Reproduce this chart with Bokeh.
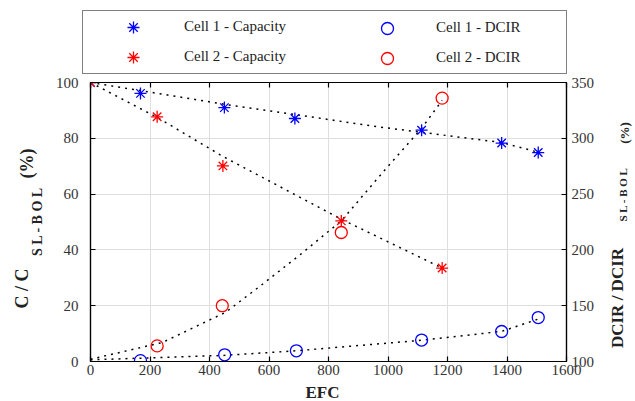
import math
from bokeh.plotting import figure
from bokeh.layouts import row, column
from bokeh.models import Range1d, LinearAxis, FixedTicker, Label, Legend, LegendItem
from bokeh.embed import file_html
from bokeh.resources import INLINE

# ---- data ----
efc_c1_cap = [0, 168, 450, 687, 1113, 1382, 1505]
cap_c1 = [100, 96.1, 91.0, 87.1, 82.9, 78.3, 74.9]
efc_c2_cap = [0, 224, 445, 843, 1182]
cap_c2 = [100, 87.7, 70.1, 50.4, 33.5]
efc_c1_dcir = [168, 451, 692, 1113, 1382, 1505]
dcir_c1 = [100.8, 106.0, 109.6, 119.2, 126.9, 139.4]
efc_c2_dcir = [224, 443, 843, 1182]
dcir_c2 = [114.0, 150.0, 215.6, 336.0]

# dotted trend lines
trend_c1_cap_x = [0, 450, 975, 1382, 1505]
trend_c1_cap_y = [100, 92.2, 84.0, 78.5, 75.0]
trend_c2_cap_x = [0, 224, 445, 843, 1182]
trend_c2_cap_y = [100, 87.5, 73.5, 51.0, 33.5]
trend_c1_dcir_x = [0, 451, 692, 1113, 1382, 1505]
trend_c1_dcir_y = [101.5, 105.5, 109.6, 119.0, 127.0, 138.0]
trend_c2_dcir_x = [0, 241, 454, 577, 706, 843, 997, 1113, 1182]
trend_c2_dcir_y = [102, 117, 144, 169, 196, 226, 274, 309, 334]

x_ticks = [0, 200, 400, 600, 800, 1000, 1200, 1400, 1600]
left_ticks = [0, 20, 40, 60, 80, 100]
right_ticks = [100, 150, 200, 250, 300, 350]

series_labels = ["Cell 1 - Capacity", "Cell 2 - Capacity", "Cell 1 - DCIR", "Cell 2 - DCIR"]
x_title = "EFC"
left_title = ["C / C", "S L - B O L", "(%)"]
right_title = ["DCIR / DCIR", "S L - B O L", "(%)"]

FONT = "Liberation Serif"
BLUE = "#0000ff"
RED = "#ff0000"
TXT = "#222222"

W, H = 635, 401
LEFT_W, RIGHT_W, TOP_H, BOTTOM_H = 46, 31, 74, 19
MAIN_W = W - LEFT_W - RIGHT_W
MAIN_H = H - TOP_H - BOTTOM_H
FRAME_L, FRAME_R, FRAME_T, FRAME_B = 90, 566, 82, 361
BL, BR = FRAME_L - LEFT_W, (W - RIGHT_W) - FRAME_R

p = figure(width=MAIN_W, height=MAIN_H,
           x_range=Range1d(0, 1600), y_range=Range1d(0, 100),
           output_backend="svg", toolbar_location=None,
           min_border_left=BL, min_border_right=BR,
           min_border_top=FRAME_T - TOP_H,
           min_border_bottom=(TOP_H + MAIN_H) - FRAME_B)
p.extra_y_ranges = {"dcir": Range1d(100, 350)}
p.background_fill_color = "white"
p.border_fill_color = "white"
p.outline_line_color = "black"
p.outline_line_width = 1.2


def style_axis(ax, ticks, standoff):
    ax.ticker = FixedTicker(ticks=ticks)
    ax.major_tick_in = 5
    ax.major_tick_out = 0
    ax.minor_tick_in = 0
    ax.minor_tick_out = 0
    ax.axis_line_color = "black"
    ax.axis_line_width = 1.2
    ax.major_tick_line_color = "black"
    ax.major_tick_line_width = 1.2
    ax.major_label_text_font = FONT
    ax.major_label_text_font_size = "15px"
    ax.major_label_text_color = "#333333"
    ax.major_label_standoff = standoff


style_axis(p.xaxis[0], x_ticks, 3)
style_axis(p.yaxis[0], left_ticks, 12)

right_axis = LinearAxis(y_range_name="dcir")
style_axis(right_axis, right_ticks, 5)
p.add_layout(right_axis, "right")

top_axis = LinearAxis()
style_axis(top_axis, x_ticks, 0)
top_axis.major_label_overrides = {t: "" for t in x_ticks}
top_axis.major_label_text_font_size = "0px"
p.add_layout(top_axis, "above")

p.xgrid.ticker = FixedTicker(ticks=x_ticks)
p.ygrid.ticker = FixedTicker(ticks=left_ticks)
for g in (p.xgrid[0], p.ygrid[0]):
    g.grid_line_color = "#dedede"
    g.grid_line_width = 1

# trend lines
dash = dict(line_color="black", line_width=1.5, line_dash="2 5")
p.line(trend_c1_cap_x, trend_c1_cap_y, **dash)
p.line(trend_c2_cap_x, trend_c2_cap_y, **dash)
p.line(trend_c1_dcir_x, trend_c1_dcir_y, y_range_name="dcir", **dash)
p.line(trend_c2_dcir_x, trend_c2_dcir_y, y_range_name="dcir", **dash)

# markers
star = dict(marker="asterisk", size=12, line_width=1.3)
ring = dict(marker="circle", size=12, fill_color=None, line_width=1.3)
p.scatter(efc_c1_cap, cap_c1, line_color=BLUE, **star)
p.scatter(efc_c2_cap, cap_c2, line_color=RED, **star)
p.scatter(efc_c1_dcir, dcir_c1, line_color=BLUE, y_range_name="dcir", **ring)
p.scatter(efc_c2_dcir, dcir_c2, line_color=RED, y_range_name="dcir", **ring)


def strip(w, h, xr=None, bl=0, br=0):
    f = figure(width=w, height=h,
               x_range=xr if xr is not None else Range1d(0, w),
               y_range=Range1d(0, h),
               output_backend="svg", toolbar_location=None,
               x_axis_location=None, y_axis_location=None,
               min_border=0, min_border_left=bl, min_border_right=br,
               outline_line_color=None)
    f.background_fill_color = "white"
    f.border_fill_color = "white"
    for g in f.grid:
        g.visible = False
    return f


def put(f, text, x, y, size, angle=math.pi / 2):
    f.add_layout(Label(x=x, y=y, text=text, angle=angle,
                       text_align="center", text_baseline="middle",
                       text_font=FONT, text_font_style="bold",
                       text_font_size=size, text_color=TXT))


# legend strip across the top (hidden copies of the series supply the swatches)
tf = strip(W, TOP_H)
k1 = tf.scatter(efc_c1_cap, cap_c1, line_color=BLUE, visible=False, **star)
k2 = tf.scatter(efc_c2_cap, cap_c2, line_color=RED, visible=False, **star)
k3 = tf.scatter(efc_c1_dcir, dcir_c1, line_color=BLUE, visible=False, **ring)
k4 = tf.scatter(efc_c2_dcir, dcir_c2, line_color=RED, visible=False, **ring)
leg_common = dict(orientation="vertical", glyph_height=30, label_height=30,
                  spacing=0, margin=0,
                  label_text_font=FONT, label_text_font_size="15px",
                  label_text_color=TXT)
leg1 = Legend(items=[LegendItem(label=series_labels[0], renderers=[k1]),
                     LegendItem(label=series_labels[1], renderers=[k2])],
              location=(82, 0.5), glyph_width=98, label_standoff=2,
              label_width=381, padding=1,
              border_line_color="black", border_line_width=1.2,
              background_fill_color="white", background_fill_alpha=1.0,
              **leg_common)
leg2 = Legend(items=[LegendItem(label=series_labels[2], renderers=[k3]),
                     LegendItem(label=series_labels[3], renderers=[k4])],
              location=(372, 1.5), glyph_width=30, label_standoff=34,
              label_width=100, padding=0,
              border_line_alpha=0, background_fill_alpha=0,
              **leg_common)
tf.add_layout(leg1, "center")
tf.add_layout(leg2, "center")

SIDE_H = H - TOP_H
# left title column (coordinates in pixels of this strip, y upward)
lf = strip(LEFT_W, SIDE_H)
put(lf, left_title[0], 21.5, H - 288, "18px")
put(lf, left_title[1], 37, H - 221, "14px")
put(lf, left_title[2], 26.5, H - 163, "18px")

# right title column
rf = strip(RIGHT_W, SIDE_H)
x0 = W - RIGHT_W
put(rf, right_title[0], 617 - x0, H - 297.5, "17px")
put(rf, right_title[1], 622 - x0, H - 194, "11px")
put(rf, right_title[2], 624 - x0, H - 132.5, "13px")

# bottom strip with the x-axis title (same x scale and borders as the plot)
bf = strip(MAIN_W, BOTTOM_H, xr=Range1d(0, 1600), bl=BL, br=BR)
put(bf, x_title, (322 - FRAME_L) * 1600 / (FRAME_R - FRAME_L), H - 391.5, "17px", angle=0)

layout = column(tf, row(lf, column(p, bf), rf))
open("out.html", "w").write(file_html(layout, INLINE))
